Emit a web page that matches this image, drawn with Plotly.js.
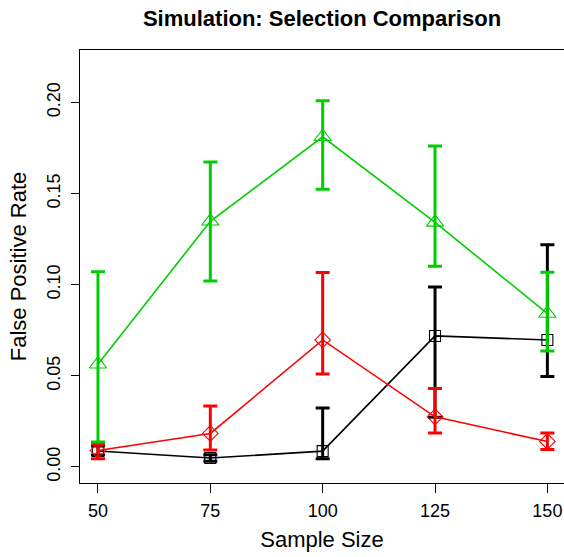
<!DOCTYPE html>
<html>
<head>
<meta charset="utf-8">
<script src="https://cdn.plot.ly/plotly-3.0.1.min.js"></script>
<style>html,body{margin:0;padding:0;background:#fff;}#chart{width:564px;height:557px;}</style>
</head>
<body>
<div id="chart"></div>
<script>
const sampleSize = [50, 75, 100, 125, 150];
const xTickLabels = ['50', '75', '100', '125', '150'];
const yTickVals = [0, 0.05, 0.10, 0.15, 0.20];
const yTickLabels = ['0.00', '0.05', '0.10', '0.15', '0.20'];

// black squares
const blackMean  = [0.0088, 0.0049, 0.0087, 0.0719, 0.0697];
const blackUpper = [0.0115, 0.0067, 0.0324, 0.0987, 0.1220];
const blackLower = [0.0065, 0.0032, 0.0045, 0.0273, 0.0497];

// red diamonds
const redMean  = [0.0090, 0.0184, 0.0697, 0.0275, 0.0140];
const redUpper = [0.0124, 0.0335, 0.1067, 0.0430, 0.0186];
const redLower = [0.0045, 0.0093, 0.0510, 0.0187, 0.0096];

// green triangles
const greenMean  = [0.0564, 0.1348, 0.1812, 0.1342, 0.0842];
const greenUpper = [0.1071, 0.1674, 0.2009, 0.1761, 0.1069];
const greenLower = [0.0137, 0.1020, 0.1524, 0.1102, 0.0637];

function series(mean, up, lo, color, symbol, size) {
  return {
    x: sampleSize, y: mean, type: 'scatter', mode: 'lines+markers',
    line: {color: color, width: 1.6},
    marker: {symbol: symbol, size: size, color: color, line: {color: color, width: 1.1}},
    error_y: {
      type: 'data', symmetric: false,
      array: up.map((u, i) => u - mean[i]),
      arrayminus: lo.map((l, i) => mean[i] - l),
      color: color, thickness: 3, width: 7
    },
    showlegend: false, hoverinfo: 'x+y'
  };
}

const data = [
  series(blackMean, blackUpper, blackLower, '#000000', 'square-open', 11),
  series(redMean, redUpper, redLower, '#FF0000', 'diamond-open', 12),
  series(greenMean, greenUpper, greenLower, '#00CD00', 'triangle-up-open', 15)
];

const layout = {
  width: 564, height: 557,
  margin: {l: 80, r: 0, t: 50, b: 74},
  paper_bgcolor: '#ffffff', plot_bgcolor: '#ffffff',
  font: {family: 'Liberation Sans, Arial, sans-serif', color: '#000'},
  title: {text: '<b>Simulation: Selection Comparison</b>', font: {size: 22, color: '#000'},
          x: 0.5, xanchor: 'center', xref: 'paper', yref: 'container', y: 0.968, yanchor: 'middle'},
  xaxis: {
    range: [46, 153.7], tickvals: sampleSize, ticktext: xTickLabels,
    showgrid: false, zeroline: false, showline: true, mirror: true,
    linecolor: '#000', linewidth: 1,
    ticks: 'outside', ticklen: 9, tickcolor: '#000', tickwidth: 1,
    tickfont: {size: 18}, ticklabelstandoff: 2,
    title: {text: 'Sample Size', font: {size: 22}, standoff: 12}
  },
  yaxis: {
    range: [-0.0088, 0.2288], tickvals: yTickVals, ticktext: yTickLabels,
    showgrid: false, zeroline: false, showline: true, mirror: true,
    linecolor: '#000', linewidth: 1,
    ticks: 'outside', ticklen: 8, tickcolor: '#000', tickwidth: 1,
    tickangle: -90, tickfont: {size: 18}, ticklabelstandoff: 4,
    title: {text: 'False Positive Rate', font: {size: 22}, standoff: 11}
  }
};

Plotly.newPlot('chart', data, layout, {displayModeBar: false, staticPlot: true});
</script>
</body>
</html>
